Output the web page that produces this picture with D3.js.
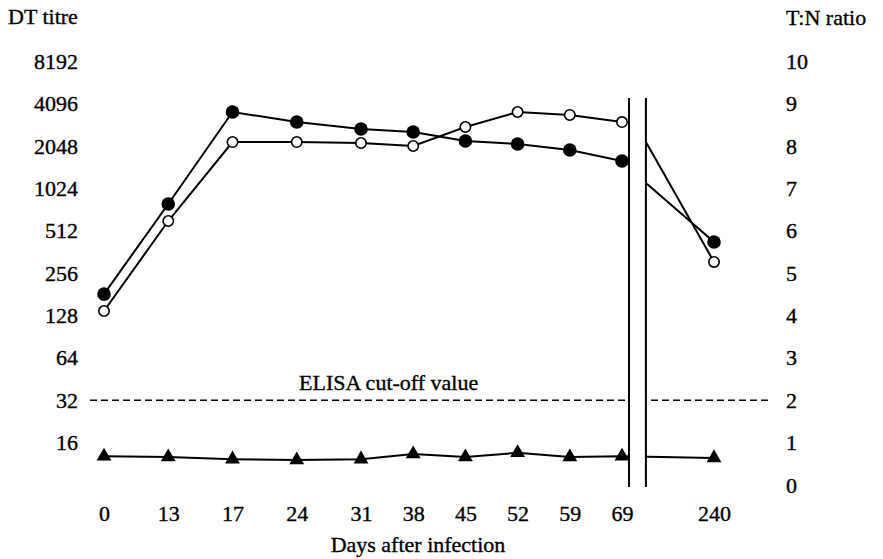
<!DOCTYPE html>
<html><head><meta charset="utf-8">
<script src="https://cdn.jsdelivr.net/npm/d3@7/dist/d3.min.js"></script>
<style>
html,body{margin:0;padding:0;background:#fff;}
svg text{font-family:"Liberation Serif","Times New Roman",serif;fill:#000;stroke:#000;stroke-width:0.35px;}
</style></head>
<body>
<svg id="chart" width="883" height="559"></svg>
<script>
// ---- data ----
const days = ["0","13","17","24","31","38","45","52","59","69","240"];
const dtTitre = [182, 795, 3584, 3042, 2713, 2584, 2230, 2124, 1924, 1608, 427];   // filled circles
const elisa   = [138, 602, 2193, 2193, 2158, 2055, 2804, 3584, 3414, 3042, 308];   // open circles
const tnRatio = [0.68, 0.66, 0.61, 0.59, 0.61, 0.73, 0.66, 0.76, 0.66, 0.68, 0.64]; // triangles
const dtTitreBreakStart = 1121;   // line resumes after the axis break
const elisaBreakStart = 2193;
const leftTicks = [16, 32, 64, 128, 256, 512, 1024, 2048, 4096, 8192];
const rightTicks = [0,1,2,3,4,5,6,7,8,9,10];
const cutOff = 32;

// ---- scales ----
const svg = d3.select("#chart");
// category index -> x (uneven spacing as in the original figure; 240 sits after the break)
const xi = d3.scaleLinear().domain([0, 4, 9, 10]).range([104, 361, 622, 714]);
const x = d => xi(days.indexOf(d));
const last = days.length - 1;
const xBreak1 = xi(9.076);
const xBreak2 = xi(9.26);
const yR = d3.scaleLinear().domain([0, 10]).range([485, 61.5]);
const yL = d3.scaleLog().base(2).domain([8, 8192]).range([485, 61.5]);

// ---- axes (labels only) ----
const fs = "22px";
const gl = svg.append("g").attr("transform", "translate(78,0)")
  .call(d3.axisLeft(yL).tickValues(leftTicks).tickSize(0).tickPadding(0).tickFormat(d3.format("d")));
gl.select(".domain").remove();
gl.selectAll("text").style("font-size", fs).attr("font-family", null);

const gr = svg.append("g").attr("transform", "translate(786,0)")
  .call(d3.axisRight(yR).tickValues(rightTicks).tickSize(0).tickPadding(0));
gr.select(".domain").remove();
gr.selectAll("text").style("font-size", fs).attr("font-family", null);

const gx = svg.append("g").attr("transform", "translate(0,505)")
  .call(d3.axisBottom(xi).tickValues(d3.range(days.length)).tickSize(0).tickPadding(0).tickFormat(i => days[i]));
gx.select(".domain").remove();
gx.selectAll("text").style("font-size", fs).attr("font-family", null);

svg.append("text").attr("x", 8).attr("y", 24).style("font-size", fs).text("DT titre");
svg.append("text").attr("x", 786).attr("y", 25).style("font-size", fs).text("T:N ratio");
svg.append("text").attr("x", 418).attr("y", 552).attr("text-anchor", "middle").style("font-size", fs).text("Days after infection");

// ---- cut-off line ----
svg.append("line").attr("x1", 90).attr("x2", 770).attr("y1", yL(cutOff)).attr("y2", yL(cutOff))
  .attr("stroke", "#000").attr("stroke-width", 1.5).attr("stroke-dasharray", "7,4");
svg.append("text").attr("x", 299).attr("y", yL(cutOff) - 10).style("font-size", fs).text("ELISA cut-off value");

// ---- lines ----
const line = d3.line().x(d => d[0]).y(d => d[1]);
const lineStyle = s => s.attr("fill", "none").attr("stroke", "#000").attr("stroke-width", 2);

const tri = days.map((d, i) => [x(d), yR(tnRatio[i])]);
svg.append("path").datum(tri).attr("d", line).call(lineStyle);

// break gap
svg.append("rect").attr("x", xBreak1).attr("width", xBreak2 - xBreak1)
  .attr("y", 98).attr("height", 389).attr("fill", "#fff");

const filled = days.map((d, i) => [x(d), yL(dtTitre[i])]);
const open = days.map((d, i) => [x(d), yL(elisa[i])]);
svg.append("path").datum(filled.slice(0, last)).attr("d", line).call(lineStyle);
svg.append("path").datum(open.slice(0, last)).attr("d", line).call(lineStyle);
svg.append("path").datum([[xBreak2, yL(dtTitreBreakStart)], filled[last]]).attr("d", line).call(lineStyle);
svg.append("path").datum([[xBreak2, yL(elisaBreakStart)], open[last]]).attr("d", line).call(lineStyle);

// break lines
[xBreak1, xBreak2].forEach(bx => {
  svg.append("line").attr("x1", bx).attr("x2", bx).attr("y1", 98).attr("y2", 487)
    .attr("stroke", "#000").attr("stroke-width", 2);
});

// ---- markers ----
svg.append("g").selectAll("path").data(tri).join("path")
  .attr("transform", d => `translate(${d[0]},${d[1]})`)
  .attr("d", d3.symbol().type(d3.symbolTriangle).size(95)).attr("fill", "#000");

svg.append("g").selectAll("circle").data(open).join("circle")
  .attr("cx", d => d[0]).attr("cy", d => d[1]).attr("r", 5.2)
  .attr("fill", "#fff").attr("stroke", "#000").attr("stroke-width", 1.6);

svg.append("g").selectAll("circle").data(filled).join("circle")
  .attr("cx", d => d[0]).attr("cy", d => d[1]).attr("r", 6.8).attr("fill", "#000");
</script>
</body></html>
